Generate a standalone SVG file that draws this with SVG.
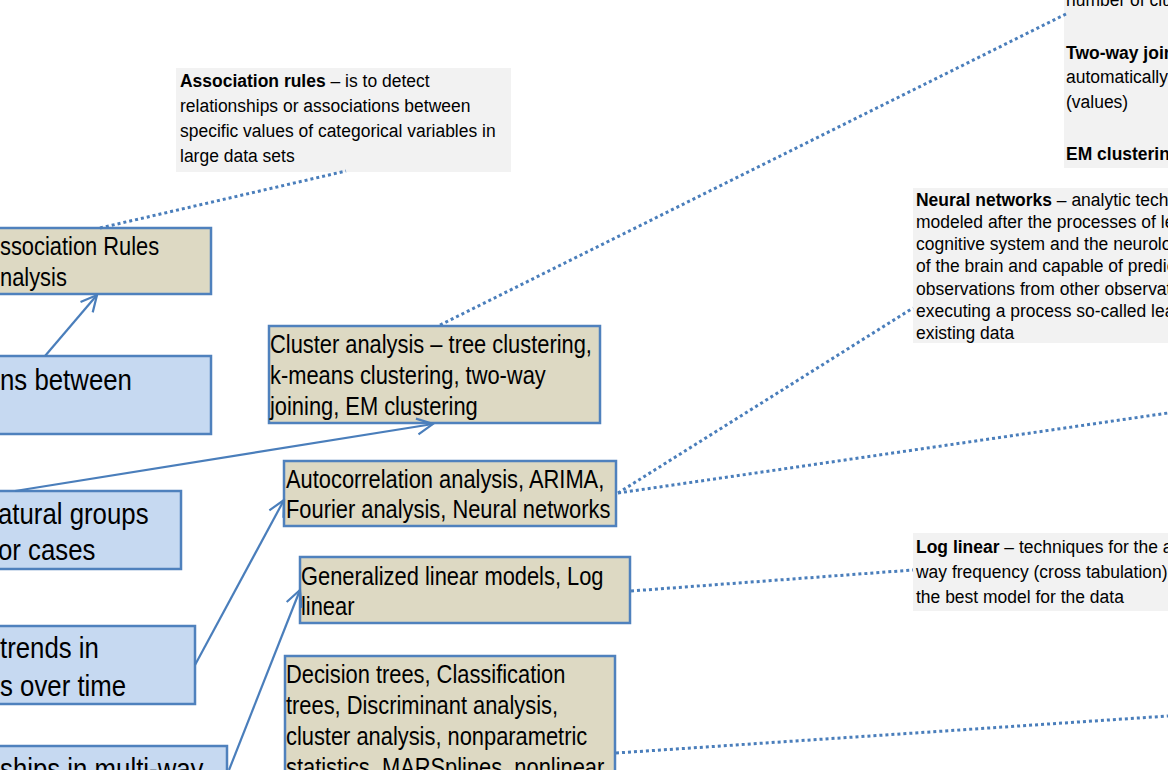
<svg xmlns="http://www.w3.org/2000/svg" width="1168" height="770" viewBox="0 0 1168 770">
<defs>
<style>
text{font-family:"Liberation Sans",Arial,sans-serif;fill:#000}
.tan{fill:#ddd9c3;stroke:#4f81bd;stroke-width:2.5}
.blue{fill:#c6d9f1;stroke:#4f81bd;stroke-width:2.5}
.note{fill:#f2f2f2;stroke:none}
.big{font-size:30px}
.mid{font-size:25px}
.sm{font-size:19px}
.b{font-weight:bold}
.arr{fill:none;stroke:#4a7ebb;stroke-width:2.2;marker-end:url(#open)}
.dot{fill:none;stroke:#4a7ebb;stroke-width:3;stroke-dasharray:3 3}
</style>
<marker id="open" viewBox="0 0 20 20" refX="18" refY="10" markerWidth="20" markerHeight="20" markerUnits="userSpaceOnUse" orient="auto">
<path d="M2,2 L18,10 L2,18" fill="none" stroke="#4a7ebb" stroke-width="2.2"/>
</marker>
</defs>

<g id="note-assoc">
<rect class="note" x="176" y="68" width="335" height="104"/>
<g transform="matrix(0.92,0,0,1,180,0)">
<text class="sm" x="0" y="87"><tspan class="b">Association rules</tspan> – is to detect</text>
<text class="sm" x="0" y="112">relationships or associations between</text>
<text class="sm" x="0" y="137">specific values of categorical variables in</text>
<text class="sm" x="0" y="162">large data sets</text>
</g>
</g>

<g id="note-cluster">
<rect class="note" x="1064" y="-10" width="110" height="178"/>
<g transform="matrix(0.92,0,0,1,1066,0)">
<text class="sm" x="0" y="6">number of clusters</text>
<text class="sm b" x="0" y="59">Two-way joining</text>
<text class="sm" x="0" y="83">automatically</text>
<text class="sm" x="0" y="108">(values)</text>
<text class="sm b" x="0" y="160">EM clustering</text>
</g>
</g>

<g id="note-neural">
<rect class="note" x="913" y="188" width="260" height="155"/>
<g transform="matrix(0.92,0,0,1,916,0)">
<text class="sm" x="0" y="206"><tspan class="b">Neural networks</tspan> – analytic techniques</text>
<text class="sm" x="0" y="228">modeled after the processes of learning</text>
<text class="sm" x="0" y="250">cognitive system and the neurological</text>
<text class="sm" x="0" y="272">of the brain and capable of predicting</text>
<text class="sm" x="0" y="295">observations from other observations</text>
<text class="sm" x="0" y="317">executing a process so-called learning</text>
<text class="sm" x="0" y="339">existing data</text>
</g>
</g>

<g id="note-loglinear">
<rect class="note" x="913" y="533" width="260" height="78"/>
<g transform="matrix(0.92,0,0,1,916,0)">
<text class="sm" x="0" y="553"><tspan class="b">Log linear</tspan> – techniques for the analysis</text>
<text class="sm" x="0" y="578">way frequency (cross tabulation) tables</text>
<text class="sm" x="0" y="603">the best model for the data</text>
</g>
</g>

<g id="ar-analysis">
<rect class="tan" x="-10" y="228" width="221" height="66"/>
<g transform="matrix(0.875,0,0,1,0,0)">
<text class="mid" x="0" y="255">ssociation Rules</text>
<text class="mid" x="0" y="286">nalysis</text>
</g>
</g>

<g id="goal-assoc">
<rect class="blue" x="-10" y="356" width="221" height="78"/>
<g transform="matrix(0.86,0,0,1,0,0)">
<text class="big" x="0" y="390">ns between</text>
</g>
</g>

<g id="goal-groups">
<rect class="blue" x="-10" y="491" width="191" height="78"/>
<g transform="matrix(0.86,0,0,1,-2,0)">
<text class="big" x="0" y="524">atural groups</text>
<text class="big" x="0" y="560">or cases</text>
</g>
</g>

<g id="goal-trends">
<rect class="blue" x="-10" y="626" width="205" height="78"/>
<g transform="matrix(0.86,0,0,1,0,0)">
<text class="big" x="0" y="658">trends in</text>
<text class="big" x="0" y="696">s over time</text>
</g>
</g>

<g id="goal-multiway">
<rect class="blue" x="-10" y="746" width="237" height="40"/>
<g transform="matrix(0.86,0,0,1,0,0)">
<text class="big" x="0" y="779">ships in multi-way</text>
</g>
</g>

<g id="cluster">
<rect class="tan" x="269" y="326" width="331" height="97"/>
<g transform="matrix(0.875,0,0,1,270,0)">
<text class="mid" x="0" y="353">Cluster analysis – tree clustering,</text>
<text class="mid" x="0" y="384">k-means clustering, two-way</text>
<text class="mid" x="0" y="415">joining, EM clustering</text>
</g>
</g>

<g id="autocorr">
<rect class="tan" x="284" y="461" width="332" height="65"/>
<g transform="matrix(0.875,0,0,1,286,0)">
<text class="mid" x="0" y="488">Autocorrelation analysis, ARIMA,</text>
<text class="mid" x="0" y="518">Fourier analysis, Neural networks</text>
</g>
</g>

<g id="glm">
<rect class="tan" x="300" y="557" width="330" height="66"/>
<g transform="matrix(0.875,0,0,1,301,0)">
<text class="mid" x="0" y="585">Generalized linear models, Log</text>
<text class="mid" x="0" y="615">linear</text>
</g>
</g>

<g id="decision">
<rect class="tan" x="285" y="656" width="330" height="130"/>
<g transform="matrix(0.875,0,0,1,286,0)">
<text class="mid" x="0" y="683">Decision trees, Classification</text>
<text class="mid" x="0" y="714">trees, Discriminant analysis,</text>
<text class="mid" x="0" y="745">cluster analysis, nonparametric</text>
<text class="mid" x="0" y="776">statistics, MARSplines, nonlinear</text>
</g>
</g>

<g id="connectors">
<line class="arr" x1="45" y1="356" x2="97" y2="295"/>
<line class="arr" x1="15" y1="491" x2="433" y2="424"/>
<line class="arr" x1="195" y1="665" x2="284" y2="500"/>
<line class="arr" x1="229" y1="770" x2="300" y2="590"/>
<line class="dot" x1="100" y1="228" x2="346" y2="171"/>
<line class="dot" x1="440" y1="325" x2="1066" y2="14"/>
<line class="dot" x1="618" y1="493" x2="913" y2="308"/>
<line class="dot" x1="618" y1="493" x2="1168" y2="413"/>
<line class="dot" x1="631" y1="591" x2="913" y2="570"/>
<line class="dot" x1="616" y1="753" x2="1168" y2="716"/>
</g>
</svg>
